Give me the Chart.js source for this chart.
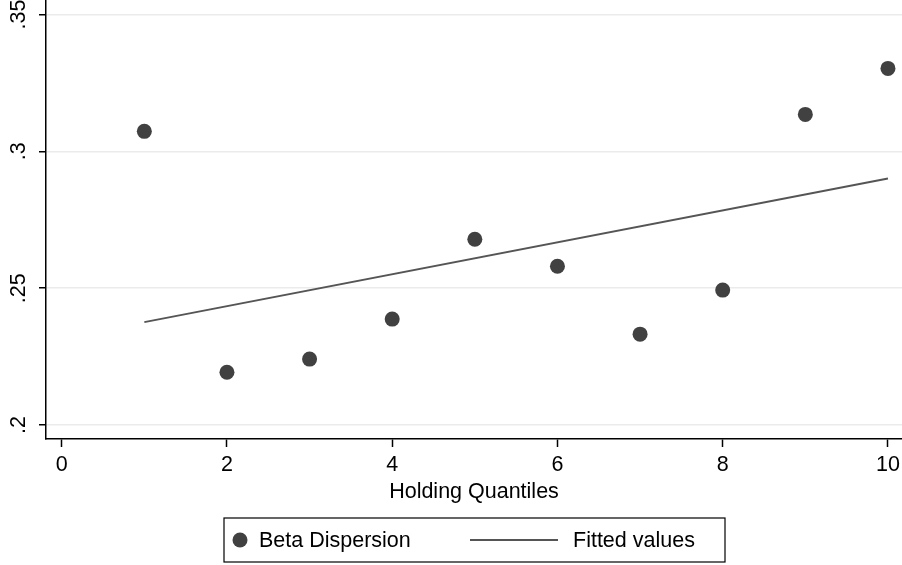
<!DOCTYPE html>
<html>
<head>
<meta charset="utf-8">
<script src="https://cdn.jsdelivr.net/npm/chart.js@4"></script>
<style>
    html, body { margin: 0; padding: 0; background: #fff; }
    #wrap { width: 902px; height: 565px; }
</style>
</head>
<body>
<div id="wrap"><canvas id="betaChart" width="902" height="565"></canvas></div>
<script>
// Data
const quantiles = [1, 2, 3, 4, 5, 6, 7, 8, 9, 10];
const betaDispersion = [0.3073, 0.2193, 0.2241, 0.2387, 0.2679, 0.2580, 0.2332, 0.2493, 0.3135, 0.3303];
const fittedX = [1, 10];
const fittedY = [0.2376, 0.2901];
const xTicks = [0, 2, 4, 6, 8, 10];
const yTicks = [0.2, 0.25, 0.3, 0.35];

const FONT = "'Liberation Sans', Arial, Helvetica, sans-serif";
const FONT_SIZE = 21.5;
const DOT = '#414141';
const LINE = '#555555';

// Stata-style boxed legend under the x axis title
const legendBox = {
    id: 'legendBox',
    afterDraw(chart) {
        const ctx = chart.ctx;
        const area = chart.chartArea;
        const cx = (area.left + area.right) / 2;
        const left = cx - 250, right = cx + 251;
        const top = 518, bottom = 562, mid = (top + bottom) / 2;
        ctx.save();
        ctx.strokeStyle = '#000';
        ctx.lineWidth = 1.2;
        ctx.strokeRect(left, top, right - left, bottom - top);

        const ds = chart.data.datasets;
        ctx.fillStyle = ds[0].backgroundColor;
        ctx.beginPath();
        ctx.arc(left + 16, mid, 7.5, 0, Math.PI * 2);
        ctx.fill();

        ctx.strokeStyle = ds[1].borderColor;
        ctx.lineWidth = 2;
        ctx.beginPath();
        ctx.moveTo(left + 246, mid);
        ctx.lineTo(left + 334, mid);
        ctx.stroke();

        ctx.fillStyle = '#000';
        ctx.font = FONT_SIZE + 'px ' + FONT;
        ctx.textBaseline = 'middle';
        ctx.textAlign = 'left';
        ctx.fillText(ds[0].label, left + 35, mid + 1);
        ctx.fillText(ds[1].label, left + 349, mid + 1);
        ctx.restore();
    }
};

new Chart(document.getElementById('betaChart').getContext('2d'), {
    type: 'scatter',
    data: {
        datasets: [{
            label: 'Beta Dispersion',
            data: quantiles.map((q, i) => ({ x: q, y: betaDispersion[i] })),
            backgroundColor: DOT,
            borderColor: DOT,
            pointRadius: 7.5,
            pointHoverRadius: 7.5,
            borderWidth: 0
        }, {
            label: 'Fitted values',
            type: 'line',
            data: fittedX.map((q, i) => ({ x: q, y: fittedY[i] })),
            borderColor: LINE,
            borderWidth: 2,
            pointRadius: 0,
            fill: false,
            tension: 0
        }]
    },
    options: {
        responsive: false,
        animation: false,
        layout: { autoPadding: false, padding: { left: 0, right: 0, top: 0, bottom: 60 } },
        plugins: {
            legend: { display: false },
            tooltip: { enabled: false }
        },
        scales: {
            x: {
                type: 'linear',
                min: -0.19,
                max: 10.17,
                afterBuildTicks: scale => { scale.ticks = xTicks.map(v => ({ value: v })); },
                afterFit: scale => {
                    scale.height = 66;
                    scale.paddingLeft = 0;
                    scale.paddingRight = 0;
                },
                border: { color: '#000', width: 1.5 },
                grid: { drawOnChartArea: false, tickColor: '#000', tickLength: 8, tickWidth: 1.5 },
                ticks: {
                    color: '#000',
                    font: { family: FONT, size: FONT_SIZE },
                    padding: 5,
                    maxRotation: 0
                },
                title: {
                    display: true,
                    text: 'Holding Quantiles',
                    color: '#000',
                    font: { family: FONT, size: FONT_SIZE },
                    padding: { top: 4, bottom: 0 }
                }
            },
            y: {
                min: 0.1949,
                max: 0.3553,
                afterBuildTicks: scale => { scale.ticks = yTicks.map(v => ({ value: v })); },
                afterFit: scale => {
                    scale.width = 46;
                    scale.paddingTop = 0;
                    scale.paddingBottom = 0;
                },
                border: { color: '#000', width: 1.5 },
                grid: { color: '#ebebeb', lineWidth: 1.5, tickColor: '#000', tickLength: 7, tickWidth: 1.5 },
                ticks: {
                    color: '#000',
                    font: { family: FONT, size: FONT_SIZE },
                    minRotation: 90,
                    maxRotation: 90,
                    crossAlign: 'center',
                    padding: 5,
                    callback: v => String(v).replace(/^0/, '')
                }
            }
        }
    },
    plugins: [legendBox]
});
</script>
</body>
</html>
